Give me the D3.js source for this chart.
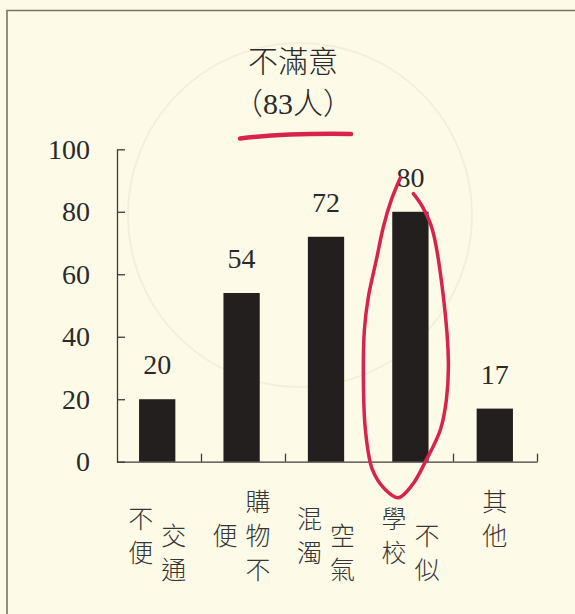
<!DOCTYPE html>
<html>
<head>
<meta charset="utf-8">
<script src="https://cdn.jsdelivr.net/npm/d3@7"></script>
<style>
  html, body { margin: 0; padding: 0; background: #fdfbe7; }
  svg { display: block; }
</style>
</head>
<body>
<div id="chart"></div>
<script>
'use strict';

var categories = ['交通不便', '購物不便', '空氣混濁', '不似學校', '其他'];
var values = [20, 54, 72, 80, 17];
var yTicks = [0, 20, 40, 60, 80, 100];
// vertical labels, columns read right to left
var labelColumns = [['交通', '不便'], ['購物不', '便'], ['空氣', '混濁'], ['不似', '學校'], ['其他']];
var titleLines = ['不滿意', '（83人）'];
var circled = '不似學校';

var width = 575, height = 614;
var serif = '"Liberation Serif", "Noto Sans CJK TC", serif';
var cjk = '"Noto Sans CJK TC", sans-serif';

var svg = d3.select('#chart')
    .append('svg')
    .attr('width', width)
    .attr('height', height);

svg.append('rect')
    .attr('width', width)
    .attr('height', height)
    .attr('fill', '#fdfbe7');

// faint stamp showing through the paper
svg.append('circle')
    .attr('cx', 300).attr('cy', 215).attr('r', 172)
    .attr('fill', 'none')
    .attr('stroke', '#f3f0da')
    .attr('stroke-width', 2);

// frame
svg.append('path')
    .attr('d', 'M7,' + height + 'V10.5H' + width)
    .attr('fill', 'none')
    .attr('stroke', '#75756a')
    .attr('stroke-width', 1.6);

var x = d3.scaleBand()
    .domain(categories)
    .range([115, 537])
    .paddingInner(0.57)
    .paddingOuter(0.285);

var xEdges = d3.scaleLinear()
    .domain([0, categories.length])
    .range([117, 537]);

var y = d3.scaleLinear()
    .domain([0, 100])
    .range([461.7, 149.3]);

// y axis
var yAxis = svg.append('g')
    .attr('transform', 'translate(117,0)')
    .call(d3.axisLeft(y)
        .tickValues(yTicks)
        .tickSizeInner(-8)
        .tickSizeOuter(0)
        .tickPadding(27));

// x axis with ticks at category edges
var xAxis = svg.append('g')
    .attr('transform', 'translate(0,' + y(0) + ')')
    .call(d3.axisBottom(xEdges)
        .tickValues(d3.range(1, categories.length + 1))
        .tickSizeInner(-8)
        .tickSizeOuter(0)
        .tickFormat(''));

[yAxis, xAxis].forEach(function (g) {
    g.select('.domain').attr('stroke', '#3c3c3c').attr('stroke-width', 1.3);
    g.selectAll('.tick line').attr('stroke', '#3c3c3c').attr('stroke-width', 1.3);
    g.selectAll('.tick text')
        .attr('font-family', serif)
        .attr('font-size', 28)
        .attr('fill', '#2a2a2a');
});

var data = categories.map(function (c, i) { return { cat: c, value: values[i] }; });

svg.selectAll('.bar')
    .data(data)
    .enter()
    .append('rect')
    .attr('class', 'bar')
    .attr('x', function (d) { return x(d.cat); })
    .attr('width', x.bandwidth())
    .attr('y', function (d) { return y(d.value); })
    .attr('height', function (d) { return y(0) - y(d.value); })
    .attr('fill', '#231f1e');

svg.selectAll('.value')
    .data(data)
    .enter()
    .append('text')
    .attr('class', 'value')
    .attr('x', function (d) { return x(d.cat) + x.bandwidth() / 2; })
    .attr('y', function (d) { return y(d.value) - 25; })
    .attr('text-anchor', 'middle')
    .attr('font-family', serif)
    .attr('font-size', 28)
    .attr('fill', '#2a2a2a')
    .text(function (d) { return d.value; });

// category labels, vertical
var rowStart = [[1, 0.5], [0, 1], [1, 0.5], [1, 0.5], [0]];
var colGap = 16.5, rowPitch = 34, firstRow = y(0) + 38.5;

categories.forEach(function (c, i) {
    var cx = x(c) + x.bandwidth() / 2;
    var cols = labelColumns[i];
    cols.forEach(function (col, j) {
        var colX = cols.length === 1 ? cx : (j === 0 ? cx + colGap : cx - colGap);
        col.split('').forEach(function (ch, k) {
            svg.append('text')
                .attr('x', colX)
                .attr('y', firstRow + (rowStart[i][j] + k) * rowPitch)
                .attr('text-anchor', 'middle')
                .attr('dominant-baseline', 'central')
                .attr('font-family', cjk)
                .attr('font-weight', 300)
                .attr('font-size', 25)
                .attr('fill', '#363636')
                .text(ch);
        });
    });
});

// title
svg.selectAll('.title')
    .data(titleLines)
    .enter()
    .append('text')
    .attr('class', 'title')
    .attr('x', 293)
    .attr('y', function (d, i) { return 61.5 + i * 42; })
    .attr('text-anchor', 'middle')
    .attr('dominant-baseline', 'central')
    .attr('font-family', serif)
    .attr('font-weight', 300)
    .attr('font-size', 30)
    .attr('fill', '#2a2a2a')
    .text(function (d) { return d; });

// red pen marks
var red = '#d8244c';

svg.append('path')
    .attr('d', 'M240,138.5 Q285,133 351,134')
    .attr('fill', 'none')
    .attr('stroke', red)
    .attr('stroke-width', 4.5)
    .attr('stroke-linecap', 'round');

var loop = [[3, -268], [12, -255], [22, -232], [33, -165], [38, -99], [36, -62], [30, -32],
    [15, 0], [2, 23], [-12, 36], [-25, 28], [-38, 8], [-45, -32], [-47, -82], [-46, -132],
    [-42, -165], [-34, -202], [-27, -235], [-19, -262], [-10, -284]];
var lx = x(circled) + x.bandwidth() / 2, ly = y(0);

svg.append('path')
    .datum(loop)
    .attr('d', d3.line()
        .x(function (p) { return lx + p[0]; })
        .y(function (p) { return ly + p[1]; })
        .curve(d3.curveCatmullRom))
    .attr('fill', 'none')
    .attr('stroke', red)
    .attr('stroke-width', 3.5)
    .attr('stroke-linecap', 'round');
</script>
</body>
</html>
